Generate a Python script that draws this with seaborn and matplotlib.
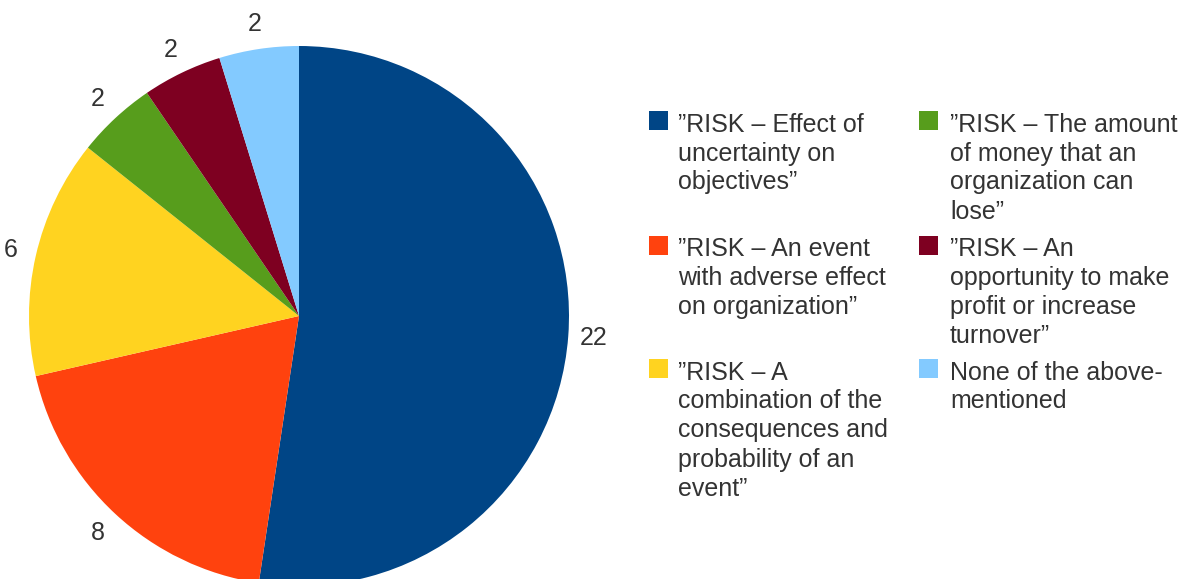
import matplotlib
matplotlib.use("Agg")
import matplotlib.pyplot as plt
from matplotlib.patches import Rectangle
import numpy as np
import seaborn as sns

# Survey answers: how respondents define "risk"
categories = [
    "\u201dRISK \u2013 Effect of\nuncertainty on\nobjectives\u201d",
    "\u201dRISK \u2013 An event\nwith adverse effect\non organization\u201d",
    "\u201dRISK \u2013 A\ncombination of the\nconsequences and\nprobability of an\nevent\u201d",
    "\u201dRISK \u2013 The amount\nof money that an\norganization can\nlose\u201d",
    "\u201dRISK \u2013 An\nopportunity to make\nprofit or increase\nturnover\u201d",
    "None of the above-\nmentioned",
]
counts = [22, 8, 6, 2, 2, 2]
colors = ["#004586", "#ff420e", "#ffd320", "#579d1c", "#7e0021", "#83caff"]

sns.set_theme(style="white")
plt.rcParams["font.family"] = ["Liberation Sans", "DejaVu Sans"]
text_color = "#333333"

W, H = 1194, 579
fig = plt.figure(figsize=(W / 100, H / 100), dpi=100)

# Pie centred at (299, 316) px with a 270 px radius
cx, cy, r = 299, 316, 270
ax = fig.add_axes([(cx - r) / W, (H - cy - r) / H, 2 * r / W, 2 * r / H])
palette = sns.color_palette(colors)
wedges, _ = ax.pie(
    counts,
    colors=palette,
    startangle=90,
    counterclock=False,
    radius=1.0,
    wedgeprops=dict(linewidth=0, antialiased=True),
)
ax.set_xlim(-1, 1)
ax.set_ylim(-1, 1)
ax.axis("off")
for w in wedges:
    w.set_clip_on(False)

# Value labels just outside each wedge
for w, v in zip(wedges, counts):
    ang = np.deg2rad((w.theta1 + w.theta2) / 2)
    d = 1.095
    ax.text(d * np.cos(ang), d * np.sin(ang), str(v), ha="center", va="center",
            fontsize=18, color=text_color, clip_on=False)

# Two-column legend with rows aligned across columns
col_marker_x = [649, 919]
col_text_x = [678, 950]
row_baseline = [131.5, 256, 379.5]
line_step = 29
msize = 19
for i, (label, col) in enumerate(zip(categories, colors)):
    c, rw = divmod(i, 3)
    base = row_baseline[rw]
    fig.patches.append(Rectangle(
        (col_marker_x[c] / W, 1 - (base - 1.5) / H), msize / W, msize / H,
        transform=fig.transFigure, facecolor=col, edgecolor="none"))
    for k, line in enumerate(label.split("\n")):
        fig.text(col_text_x[c] / W, 1 - (base + k * line_step) / H, line,
                 ha="left", va="baseline", fontsize=18, color=text_color)

fig.savefig("out.png", dpi=100)
